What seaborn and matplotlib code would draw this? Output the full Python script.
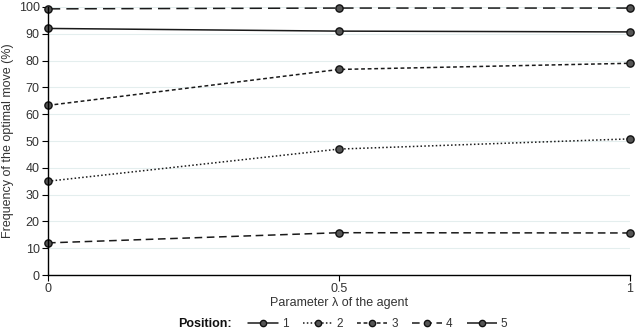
import numpy as np
import pandas as pd
import matplotlib
matplotlib.use("Agg")
import matplotlib.pyplot as plt
import seaborn as sns
from matplotlib.lines import Line2D

lam = [0, 0.5, 1]
positions = ["1", "2", "3", "4", "5"]
pos1 = [92.0, 91.0, 90.7]
pos2 = [35.0, 47.0, 50.8]
pos3 = [63.3, 76.7, 79.0]
pos4 = [12.0, 15.8, 15.7]
pos5 = [99.3, 99.6, 99.6]
series = [pos1, pos2, pos3, pos4, pos5]

rows = []
for p, vals in zip(positions, series):
    for x, v in zip(lam, vals):
        rows.append({"lam": x, "freq": v, "Position": p})
df = pd.DataFrame(rows)

sns.set_theme(style="white")
plt.rcParams["font.family"] = ["Liberation Sans", "DejaVu Sans"]

dashes = {"1": "", "2": (1, 1.5), "3": (2.5, 1.8), "4": (5, 3), "5": (8, 4)}
fig = plt.figure(figsize=(6.4, 3.33), dpi=100)
ax = fig.add_axes([0.075, 0.174, 0.909, 0.805])

sns.lineplot(data=df, x="lam", y="freq", style="Position", dashes=dashes,
             color="#1a1a1a", linewidth=1.1, marker="o", markersize=5.2,
             markerfacecolor="#555555", markeredgecolor="#111111",
             markeredgewidth=1.0, ax=ax, legend=False, clip_on=False)

ax.set_xlim(0, 1)
ax.set_ylim(0, 100)
ax.set_xticks([0, 0.5, 1])
ax.set_xticklabels(["0", "0.5", "1"])
ax.set_yticks(range(0, 101, 10))
ax.grid(axis="y", color="#e4eeee", linewidth=0.8)
ax.grid(axis="x", visible=False)
for s in ["top", "right"]:
    ax.spines[s].set_visible(False)
for s in ["left", "bottom"]:
    ax.spines[s].set_color("black")
    ax.spines[s].set_linewidth(1.0)
ax.tick_params(axis="both", direction="out", length=4, width=0.8, color="black",
               labelsize=9, labelcolor="#333333", left=True, bottom=True, pad=2)
ax.set_xlabel("Parameter λ of the agent", fontsize=9, color="#333333", labelpad=1)
ax.set_ylabel("Frequency of the optimal move (%)", fontsize=9, color="#333333", labelpad=3)

handles = []
for p in positions:
    d = dashes[p]
    ls = "-" if d == "" else (0, d)
    handles.append(Line2D([0], [0], color="#1a1a1a", linestyle=ls, linewidth=1.1,
                          marker="o", markersize=4.5, markerfacecolor="#555555",
                          markeredgecolor="#111111"))
fig.text(0.278, 0.027, "Position:", fontsize=9, fontweight="bold", color="#111111",
         ha="left", va="center")
fig.legend(handles, positions, loc="center left", bbox_to_anchor=(0.3875, 0.027),
           ncol=5, frameon=False, fontsize=8.5, handlelength=2.54, columnspacing=1.2,
           handletextpad=0.34, borderpad=0, borderaxespad=0, labelcolor="#333333")

fig.savefig("out.png", dpi=100)
